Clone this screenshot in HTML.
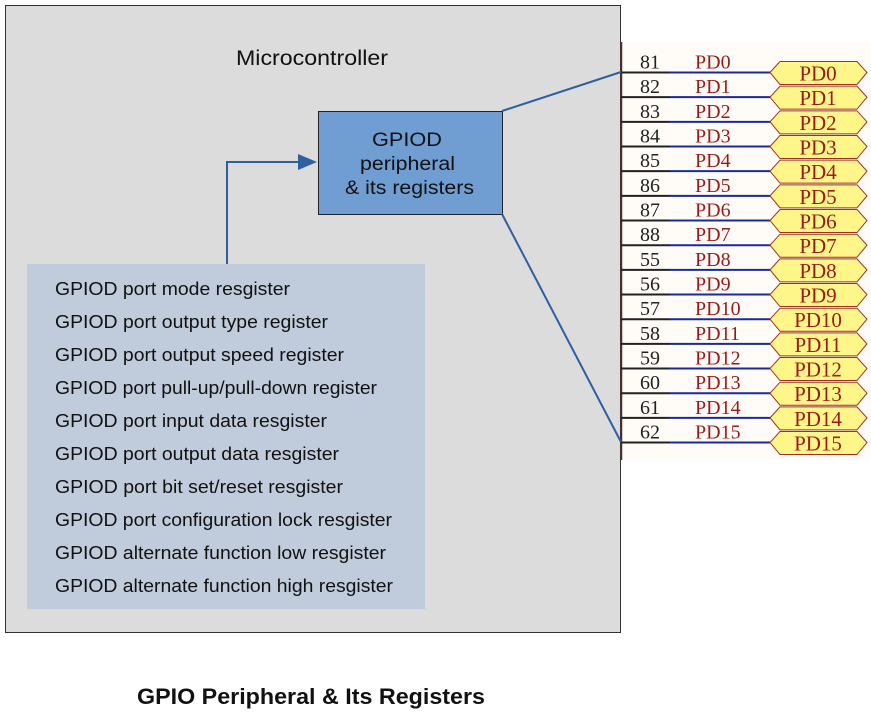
<!DOCTYPE html>
<html><head><style>
body{margin:0;width:871px;height:712px;background:#fff;overflow:hidden;font-family:"Liberation Sans",sans-serif}
</style></head><body>
<svg width="871" height="712" xmlns="http://www.w3.org/2000/svg" style="position:absolute;left:0;top:0">
<rect x="5.5" y="5.5" width="615" height="627" fill="#dcdcdc" stroke="#333" stroke-width="1"/>
<text x="236" y="65" font-size="21" textLength="152" lengthAdjust="spacingAndGlyphs" fill="#111">Microcontroller</text>
<rect x="621" y="42" width="250" height="418" fill="#fffcf8"/>
<line x1="621.5" y1="42" x2="621.5" y2="460" stroke="#5a2a2a" stroke-width="1.5"/>
<g id="rows" font-family="Liberation Serif" font-size="20"></g>
<rect x="318.5" y="111.5" width="184" height="103" fill="#709dd2" stroke="#222" stroke-width="1"/>
<g font-size="19" fill="#111">
<text x="372" y="146" textLength="70" lengthAdjust="spacingAndGlyphs">GPIOD</text>
<text x="360" y="170" textLength="95" lengthAdjust="spacingAndGlyphs">peripheral</text>
<text x="345" y="194" textLength="129" lengthAdjust="spacingAndGlyphs">&amp; its registers</text></g>
<rect x="27" y="264" width="398" height="345" fill="#c0ccdb"/>
<g font-size="18" fill="#111" lengthAdjust="spacingAndGlyphs">
<text x="55" y="295" textLength="235" lengthAdjust="spacingAndGlyphs">GPIOD port mode resgister</text>
<text x="55" y="328" textLength="273" lengthAdjust="spacingAndGlyphs">GPIOD port output type register</text>
<text x="55" y="361" textLength="289" lengthAdjust="spacingAndGlyphs">GPIOD port output speed register</text>
<text x="55" y="394" textLength="322" lengthAdjust="spacingAndGlyphs">GPIOD port pull-up/pull-down register</text>
<text x="55" y="427" textLength="272" lengthAdjust="spacingAndGlyphs">GPIOD port input data resgister</text>
<text x="55" y="460" textLength="284" lengthAdjust="spacingAndGlyphs">GPIOD port output data resgister</text>
<text x="55" y="493" textLength="288" lengthAdjust="spacingAndGlyphs">GPIOD port bit set/reset resgister</text>
<text x="55" y="526" textLength="337" lengthAdjust="spacingAndGlyphs">GPIOD port configuration lock resgister</text>
<text x="55" y="559" textLength="331" lengthAdjust="spacingAndGlyphs">GPIOD alternate function low resgister</text>
<text x="55" y="592" textLength="338" lengthAdjust="spacingAndGlyphs">GPIOD alternate function high resgister</text>
</g>
<polyline points="227,264 227,162 300,162" fill="none" stroke="#2e5fa0" stroke-width="2"/>
<polygon points="317,162 298,154 298,170" fill="#2e5fa0"/>
<line x1="502" y1="111" x2="621" y2="72" stroke="#2e5fa0" stroke-width="2"/>
<line x1="502" y1="214" x2="621" y2="442" stroke="#2e5fa0" stroke-width="2"/>
<text x="137" y="704" font-size="22" font-weight="bold" fill="#111" textLength="348" lengthAdjust="spacingAndGlyphs">GPIO Peripheral &amp; Its Registers</text>
</svg>
<script>
var nums=[81,82,83,84,85,86,87,88,55,56,57,58,59,60,61,62],g=document.getElementById('rows'),s='';
for(var i=0;i<16;i++){var y=72.5+i*24.67;
s+='<line x1="621" y1="'+y+'" x2="670" y2="'+y+'" stroke="#222" stroke-width="2"/>';
s+='<line x1="670" y1="'+y+'" x2="772" y2="'+y+'" stroke="#1a2a9a" stroke-width="2"/>';
s+='<text x="640" y="'+(y-4)+'" fill="#222">'+nums[i]+'</text>';
s+='<text x="695" y="'+(y-4)+'" fill="#9a1a1a">PD'+i+'</text>';
s+='<polygon points="770,'+y+' 780,'+(y-11)+' 857,'+(y-11)+' 867,'+y+' 857,'+(y+12)+' 780,'+(y+12)+'" fill="#fff68a" stroke="#a0302a" stroke-width="1"/>';
s+='<text x="818" y="'+(y+8)+'" fill="#9a1a1a" font-size="21" text-anchor="middle">PD'+i+'</text>';}
g.innerHTML=s;
</script>
</body></html>
